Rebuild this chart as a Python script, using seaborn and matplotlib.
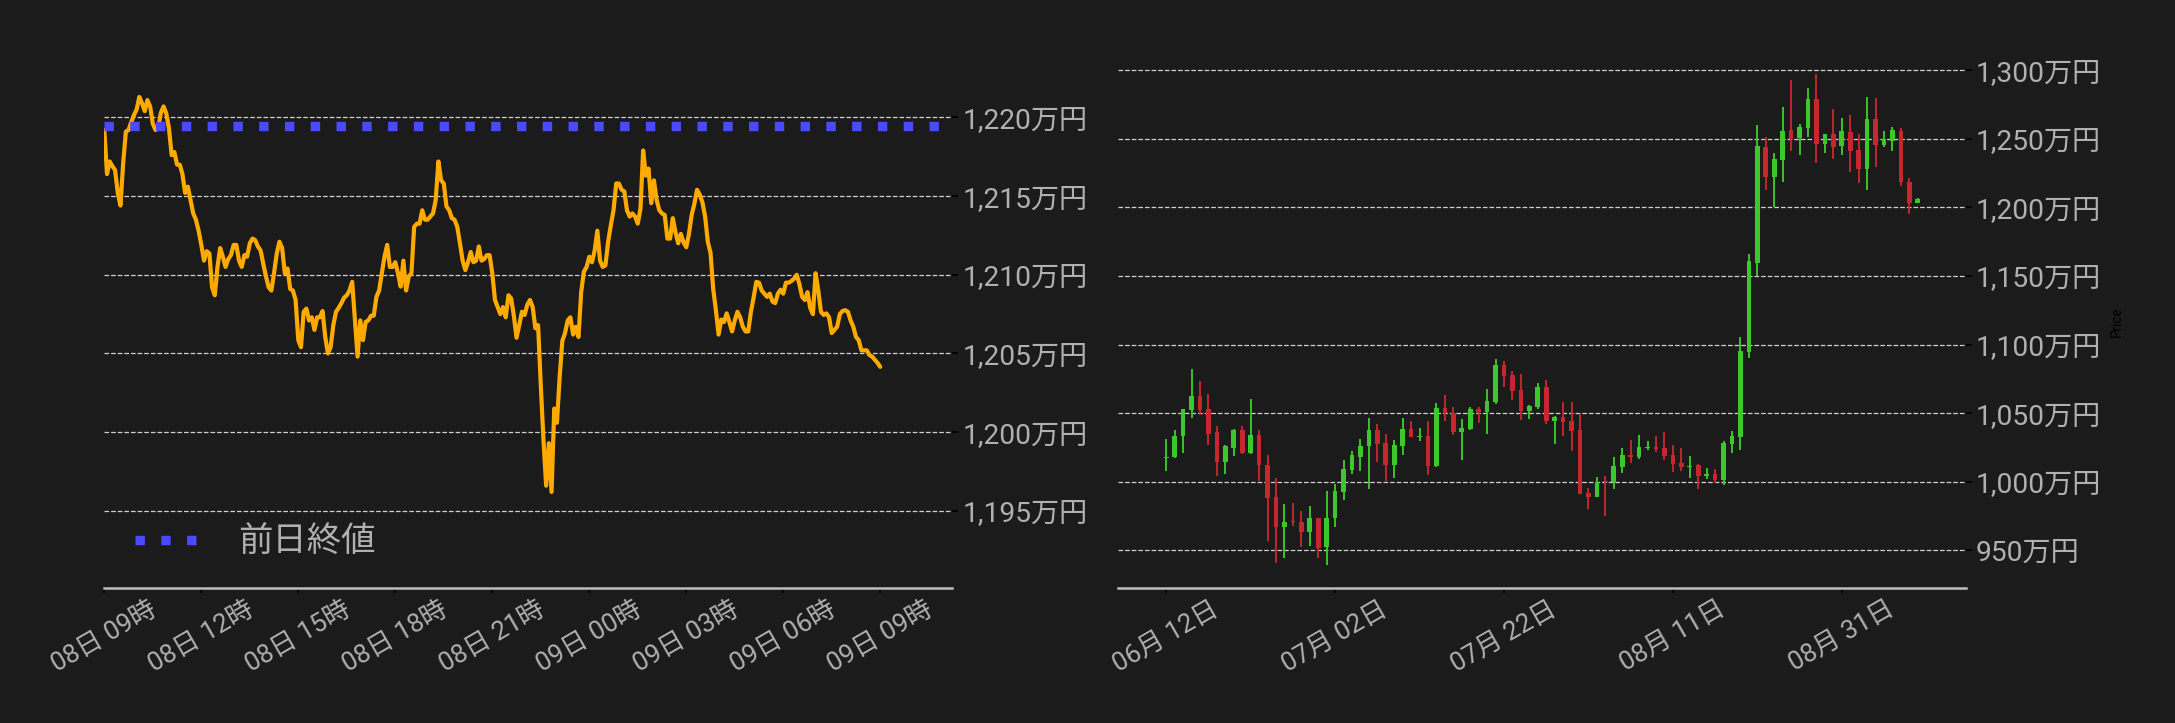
import matplotlib
matplotlib.use("Agg")
import matplotlib.pyplot as plt
import matplotlib.dates as mdates
import matplotlib.ticker as mticker
import seaborn as sns
import pandas as pd

# intraday price (万円), 5-minute steps from 08日 09時
intraday_start = "2025-09-08 09:00"
intraday_prices = [
    1219.2, 1216.4, 1217.2, 1216.9, 1216.65, 1215.2, 1214.4, 1217.1, 1219.1, 1219.2,
    1219.7, 1220.15, 1220.5, 1221.3, 1220.9, 1220.4, 1221.1, 1220.7, 1219.6, 1219.2,
    1219.3, 1220.3, 1220.7, 1220.25, 1219.3, 1217.6, 1217.8, 1217.0, 1217.0, 1216.4,
    1215.2, 1215.6, 1214.75, 1213.9, 1213.5, 1212.8, 1211.9, 1210.9, 1211.5, 1211.35,
    1209.2, 1208.7, 1210.5, 1211.7, 1211.15, 1210.5, 1211.0, 1211.25, 1211.9, 1211.9,
    1210.9, 1210.5, 1211.25, 1211.15, 1212.0, 1212.3, 1212.2, 1211.8, 1211.55, 1210.7,
    1209.9, 1209.2, 1209.0, 1210.1, 1211.35, 1212.1, 1211.7, 1210.1, 1210.4, 1209.1,
    1209.0, 1208.4, 1205.85, 1205.4, 1207.65, 1207.85, 1207.1, 1207.3, 1206.5, 1207.3,
    1207.3, 1207.7, 1206.05, 1205.0, 1205.4, 1206.8, 1207.65, 1207.9, 1208.2, 1208.55,
    1208.7, 1209.0, 1209.55, 1207.2, 1204.8, 1207.1, 1205.85, 1207.0, 1207.1, 1207.4,
    1207.4, 1208.6, 1209.0, 1210.1, 1211.15, 1211.9, 1210.5, 1210.5, 1210.8, 1210.1,
    1209.25, 1210.9, 1209.0, 1209.9, 1210.1, 1213.05, 1213.25, 1213.25, 1214.1, 1213.5,
    1213.5, 1213.7, 1213.9, 1214.75, 1217.2, 1216.0, 1215.8, 1214.35, 1214.1, 1213.6,
    1213.5, 1213.05, 1212.0, 1210.9, 1210.3, 1210.8, 1211.45, 1210.8, 1210.9, 1211.8,
    1210.9, 1211.0, 1211.25, 1211.25, 1210.1, 1208.4, 1207.95, 1207.5, 1207.95, 1207.3,
    1208.7, 1208.5, 1207.4, 1206.0, 1206.8, 1207.65, 1207.45, 1208.1, 1208.4, 1207.95,
    1206.6, 1206.8, 1203.0, 1199.5, 1196.6, 1199.3, 1196.2, 1201.5, 1200.6, 1203.5,
    1205.8, 1206.3, 1207.1, 1207.3, 1206.2, 1206.7, 1206.05, 1208.9, 1210.2, 1210.5,
    1211.15, 1210.8, 1211.55, 1212.8, 1210.9, 1210.5, 1210.6, 1212.1, 1213.15, 1214.1,
    1215.8, 1215.8, 1215.4, 1215.3, 1214.1, 1213.7, 1213.9, 1213.7, 1213.25, 1214.2,
    1217.9, 1216.3, 1216.75, 1214.55, 1216.0, 1214.75, 1214.1, 1213.9, 1213.8, 1212.3,
    1212.3, 1213.6, 1212.7, 1212.0, 1212.6, 1212.05, 1211.75, 1212.6, 1213.8, 1214.5,
    1215.4, 1215.1, 1214.6, 1213.7, 1212.1, 1211.4, 1209.1, 1207.75, 1206.2, 1207.15,
    1207.0, 1207.55, 1207.0, 1206.4, 1207.1, 1207.65, 1207.3, 1206.7, 1206.4, 1206.4,
    1207.65, 1208.55, 1209.55, 1209.5, 1209.0, 1208.8, 1208.6, 1208.8, 1208.3, 1208.2,
    1208.8, 1209.05, 1208.8, 1209.5, 1209.5, 1209.6, 1209.75, 1210.0, 1209.4, 1208.6,
    1208.4, 1208.9, 1207.9, 1207.5, 1210.1, 1209.0, 1207.65, 1207.45, 1207.55, 1207.3,
    1206.3, 1206.5, 1206.7, 1207.5, 1207.7, 1207.75, 1207.65, 1207.1, 1206.7, 1206.05,
    1205.85, 1205.2, 1205.2, 1205.2, 1204.9, 1204.8, 1204.6, 1204.4, 1204.15,
]
prev_close = 1219.45
prev_close_label = "前日終値"

# daily candles (万円) from 06月12日
daily_start = "2025-06-12"
opens = [
    1017.0, 1017.8, 1033.3, 1052.3, 1062.3, 1052.8, 1036.0, 1014.4, 1024.6, 1037.5,
    1020.9, 1034.3, 1012.4, 988.6, 966.9, 971.3, 970.8, 963.3, 973.7, 952.3,
    973.5, 992.5, 1008.5, 1018.0, 1025.8, 1037.5, 1028.0, 1012.2, 1026.0, 1038.2,
    1032.6, 1033.1, 1011.2, 1053.5, 1049.9, 1036.3, 1038.2, 1052.8, 1050.9, 1058.2,
    1084.9, 1077.6, 1066.7, 1051.6, 1054.5, 1068.9, 1044.5, 1047.0, 1044.0, 1037.5,
    992.0, 988.8, 1000.7, 1000.0, 1010.7, 1019.2, 1018.0, 1024.3, 1025.1, 1024.3,
    1019.2, 1013.4, 1010.9, 1011.9, 1004.4, 1005.4, 1001.2, 1027.5, 1032.6, 1094.6,
    1159.6, 1244.0, 1222.3, 1234.7, 1256.4, 1250.8, 1257.8, 1278.9, 1246.3, 1253.4,
    1244.9, 1254.9, 1241.8, 1228.2, 1264.4, 1245.7, 1248.6, 1255.6, 1218.5, 1203.4,
]
closes = [
    1018.0, 1033.6, 1052.8, 1062.3, 1052.3, 1034.8, 1014.4, 1026.3, 1037.5, 1020.7,
    1034.3, 1012.2, 988.3, 966.9, 970.8, 970.6, 963.3, 973.7, 951.6, 973.7,
    992.9, 1009.0, 1019.2, 1025.8, 1037.5, 1027.5, 1012.2, 1026.5, 1038.2, 1032.6,
    1033.6, 1011.4, 1053.5, 1049.9, 1036.3, 1038.9, 1052.8, 1050.9, 1058.6, 1084.9,
    1077.1, 1066.2, 1051.6, 1055.0, 1068.9, 1044.5, 1047.0, 1043.6, 1037.0, 991.0,
    988.8, 1000.0, 1000.0, 1011.2, 1019.2, 1018.0, 1025.1, 1025.3, 1023.6, 1018.7,
    1013.1, 1010.7, 1011.7, 1004.1, 1005.4, 1001.2, 1028.0, 1033.1, 1095.1, 1160.8,
    1244.7, 1222.3, 1235.3, 1255.6, 1249.8, 1258.3, 1278.9, 1246.3, 1253.4, 1244.2,
    1255.6, 1241.3, 1228.2, 1264.4, 1245.7, 1249.6, 1256.4, 1218.5, 1203.2, 1205.8,
]
highs = [
    1031.1, 1037.5, 1053.3, 1082.5, 1073.7, 1063.7, 1040.4, 1026.5, 1038.7, 1040.9,
    1060.3, 1038.0, 1019.7, 1002.9, 983.9, 984.7, 978.8, 982.2, 973.7, 993.4,
    998.5, 1016.1, 1022.6, 1031.4, 1046.5, 1041.8, 1034.5, 1030.2, 1046.7, 1044.0,
    1039.4, 1044.0, 1057.7, 1063.0, 1054.3, 1045.5, 1054.7, 1054.5, 1067.4, 1089.8,
    1087.8, 1080.5, 1078.3, 1055.7, 1072.0, 1074.5, 1048.2, 1057.9, 1057.9, 1049.1,
    995.6, 1003.4, 1003.9, 1018.2, 1024.8, 1030.2, 1034.3, 1029.4, 1033.1, 1036.0,
    1026.5, 1024.3, 1018.5, 1013.1, 1009.7, 1009.0, 1029.4, 1036.7, 1105.8, 1165.7,
    1259.8, 1251.2, 1239.4, 1272.9, 1292.9, 1260.8, 1286.8, 1297.3, 1253.9, 1271.7,
    1264.9, 1267.3, 1253.9, 1280.3, 1279.5, 1255.9, 1258.3, 1257.6, 1221.4, 1207.2,
]
lows = [
    1008.0, 1017.3, 1020.9, 1046.7, 1048.9, 1027.0, 1004.1, 1005.8, 1018.7, 1020.2,
    1020.4, 1000.5, 956.7, 940.6, 944.3, 967.6, 952.3, 953.3, 944.5, 939.4,
    967.2, 986.6, 1005.8, 1007.8, 994.6, 1014.1, 1000.5, 1002.9, 1019.7, 1032.6,
    1029.7, 1004.9, 1010.7, 1044.0, 1033.8, 1016.1, 1038.0, 1043.1, 1035.0, 1056.9,
    1069.1, 1059.4, 1044.8, 1046.0, 1053.3, 1042.3, 1027.5, 1033.3, 1022.6, 991.0,
    980.0, 988.8, 974.9, 994.9, 1006.3, 1013.6, 1016.3, 1022.9, 1021.7, 1015.6,
    1007.1, 1007.8, 1002.4, 994.6, 1002.2, 998.8, 997.6, 1020.9, 1023.4, 1090.5,
    1149.9, 1212.8, 1200.0, 1218.2, 1241.3, 1237.9, 1251.7, 1232.6, 1239.9, 1235.5,
    1237.9, 1225.5, 1217.5, 1212.6, 1229.7, 1243.8, 1241.3, 1215.8, 1195.4, 1203.4,
]

BG = "#1b1b1b"
TXT = "#b0b0b0"
UP = "#3cc82a"
DOWN = "#c8262f"

sns.set_theme(style="dark", rc={
    "figure.facecolor": BG, "axes.facecolor": BG, "savefig.facecolor": BG,
})
plt.rcParams["font.family"] = ["Roboto", "Noto Sans CJK JP", "DejaVu Sans"]

fig = plt.figure(figsize=(14.5, 4.82), dpi=150)
ax1 = fig.add_axes([0.04796, 0.1863, 0.38975, 0.7362])
ax2 = fig.add_axes([0.51416, 0.1863, 0.38961, 0.7362])


def style_axis(ax):
    for side in ["top", "left", "right"]:
        ax.spines[side].set_visible(False)
    ax.spines["bottom"].set_color("#bdbdbd")
    ax.spines["bottom"].set_linewidth(1.2)
    ax.yaxis.tick_right()
    ax.grid(axis="y", color="#d0d0d0", linestyle="--", linewidth=0.6)
    ax.grid(axis="x", visible=False)
    ax.tick_params(axis="y", colors="black", labelcolor=TXT, labelsize=13.5,
                   length=3, width=0.8, pad=2, right=True, left=False)
    ax.tick_params(axis="x", colors="black", labelcolor=TXT, labelsize=12.5,
                   length=2.5, width=0.8, pad=2, bottom=True, labelrotation=30)
    ax.yaxis.set_major_formatter(mticker.FuncFormatter(lambda v, p: f"{v:,.0f}万円"))
    ax.set_xlabel("")


# left: intraday line
times = pd.date_range(intraday_start, periods=len(intraday_prices), freq="5min")
df = pd.DataFrame({"time": times, "price": intraday_prices})
sns.lineplot(data=df, x="time", y="price", ax=ax1, color="#ffaa00", linewidth=2.0)
ax1.axhline(prev_close, color="#4a4aff", linewidth=4.5, linestyle=(0, (1, 1.75)),
            dash_capstyle="butt", label=prev_close_label)
t0 = times[0]
ax1.set_xlim(t0, t0 + pd.Timedelta(hours=26.22))
ax1.set_ylim(1190.08, 1223.9)
ax1.set_yticks([1195, 1200, 1205, 1210, 1215, 1220])
ax1.xaxis.set_major_locator(mdates.HourLocator(byhour=range(0, 24, 3)))
ax1.xaxis.set_major_formatter(mdates.DateFormatter("%d日 %H時"))
style_axis(ax1)
ax1.set_ylabel("")
leg = ax1.legend(loc="lower left", bbox_to_anchor=(0.0, -0.003), frameon=False,
                 fontsize=16.5, handlelength=1.95, labelcolor=TXT, handletextpad=1.05)

# right: daily candles
dates = pd.date_range(daily_start, periods=len(opens), freq="D")
colors = [UP if c >= o else DOWN for o, c in zip(opens, closes)]
bottoms = [min(o, c) for o, c in zip(opens, closes)]
heights = [max(abs(c - o), 0.7) for o, c in zip(opens, closes)]
ax2.vlines(dates, lows, highs, colors=colors, linewidth=0.9)
ax2.bar(dates, heights, bottom=bottoms, width=0.55, color=colors, linewidth=0)
ax2.set_xlim(dates[0] - pd.Timedelta(days=5.68), dates[-1] + pd.Timedelta(days=5.68))
ax2.set_ylim(922.3, 1310.4)
ax2.set_yticks([950, 1000, 1050, 1100, 1150, 1200, 1250, 1300])
ax2.set_xticks(pd.date_range(daily_start, periods=5, freq="20D"))
ax2.xaxis.set_major_formatter(mdates.DateFormatter("%m月 %d日"))
style_axis(ax2)
ax2.yaxis.set_label_position("right")
ax2.set_ylabel("Price", color="black", fontsize=6.5, labelpad=4)

fig.savefig("out.png", dpi=150, facecolor=BG)
